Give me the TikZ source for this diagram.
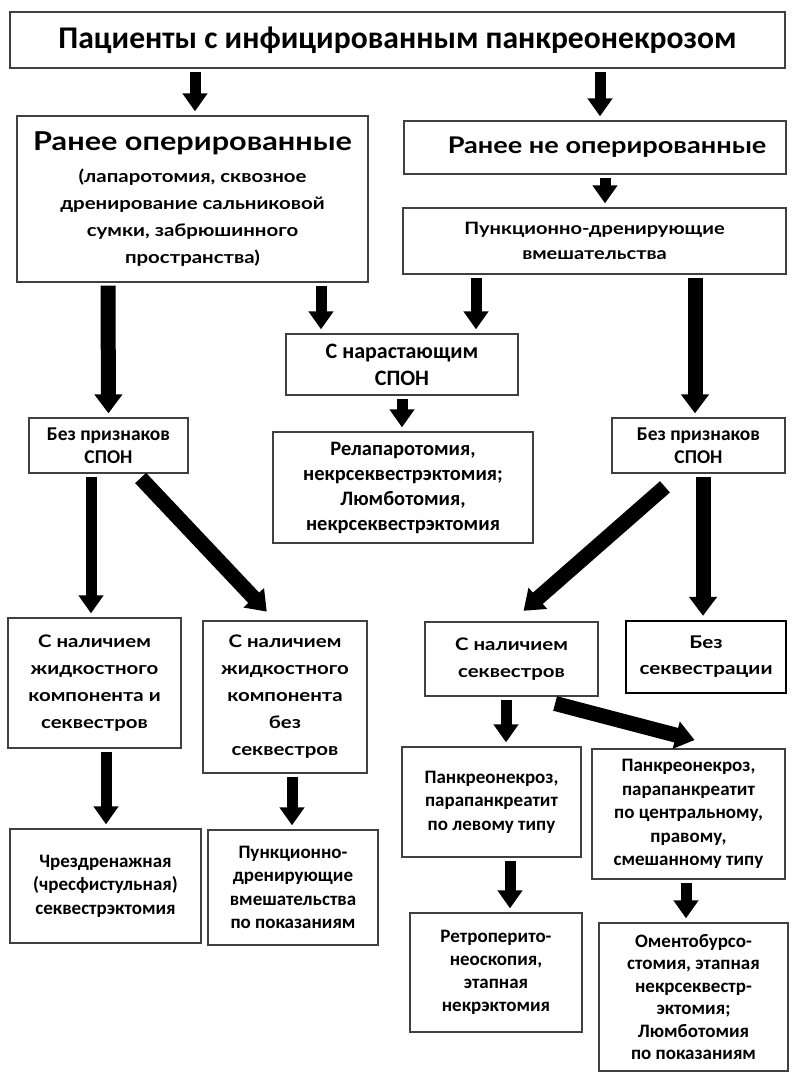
\documentclass[tikz,border=0pt]{standalone}
\usepackage{fontspec}
\setmainfont{Carlito}
\newfontfamily\av{Lato}[FakeStretch=1.18]
\usetikzlibrary{arrows.meta}
\tikzset{
  box/.style={draw=black!75, line width=1.3pt, inner sep=0pt, align=center, text=black},
  arr/.style={line width=11pt, -{Triangle[width=24pt,length=18pt]}, shorten <=3pt, shorten >=4pt},
  arrw/.style={arr, line width=15pt, -{Triangle[width=27pt,length=19pt]}},
}
\begin{document}
\begin{tikzpicture}[x=1pt,y=-1pt]
\fill[white] (0,0) rectangle (793,1081);
\useasboundingbox (0,0) rectangle (793,1081);

\node[box, minimum width=775pt, minimum height=56pt, font=\bfseries\fontsize{31.6}{38}\selectfont] (top) at (397.5,40) {Пациенты с инфицированным панкреонекрозом};

\node[box, minimum width=351pt, minimum height=166pt, font=\av\bfseries\fontsize{17.3}{27}\selectfont] (rop) at (192.5,199)
 {{\fontsize{26}{27}\selectfont Ранее оперированные}\\[5pt](лапаротомия, сквозное\\дренирование сальниковой\\сумки, забрюшинного\\пространства)};

\node[box, minimum width=382pt, minimum height=53pt, font=\av\bfseries\fontsize{23}{27}\selectfont] (rnop) at (595,147.5) {\hspace*{24pt}Ранее не оперированные};

\node[box, minimum width=383pt, minimum height=66pt, font=\av\bfseries\fontsize{17}{25}\selectfont] (pdv) at (594.5,241) {Пункционно-дренирующие\\вмешательства};

\node[box, minimum width=232pt, minimum height=61pt, font=\bfseries\fontsize{22}{27}\selectfont] (nar) at (402,364.5) {С нарастающим\\СПОН};

\node[box, minimum width=260pt, minimum height=111pt, font=\bfseries\fontsize{20.5}{25}\selectfont] (rel) at (403,487.5) {Релапаротомия,\\некрсеквестрэктомия;\\Люмботомия,\\некрсеквестрэктомия};

\node[box, minimum width=159pt, minimum height=55pt, font=\bfseries\fontsize{19.5}{23}\selectfont] (bpl) at (108.5,445.5) {Без признаков\\СПОН};
\node[box, minimum width=173pt, minimum height=55pt, font=\bfseries\fontsize{19.5}{23}\selectfont] (bpr) at (698.5,445.5) {Без признаков\\СПОН};

\node[box, minimum width=173pt, minimum height=130pt, font=\av\bfseries\fontsize{17.3}{27}\selectfont] (zks) at (94.5,683) {С наличием\\жидкостного\\компонента и\\секвестров};
\node[box, minimum width=164pt, minimum height=152pt, font=\av\bfseries\fontsize{17.3}{27}\selectfont] (zbs) at (285,697) {С наличием\\жидкостного\\компонента\\без\\секвестров};

\node[box, minimum width=173pt, minimum height=74pt, font=\av\bfseries\fontsize{17.3}{27}\selectfont] (nsq) at (511.5,659) {С наличием\\секвестров};
\node[box, draw=black, line width=2.3pt, minimum width=160pt, minimum height=72pt, font=\av\bfseries\fontsize{17.5}{26}\selectfont] (bsq) at (706,657) {Без\\секвестрации};

\node[box, minimum width=179pt, minimum height=110pt, font=\bfseries\fontsize{19}{23.5}\selectfont] (lev) at (491.5,802) {Панкреонекроз,\\парапанкреатит\\по левому типу};
\node[box, minimum width=193pt, minimum height=130pt, font=\bfseries\fontsize{19}{23.5}\selectfont] (prv) at (688.5,814) {Панкреонекроз,\\парапанкреатит\\по центральному,\\правому,\\смешанному типу};

\node[box, minimum width=191pt, minimum height=114pt, font=\bfseries\fontsize{19}{23.5}\selectfont] (chr) at (105.5,886) {Чрездренажная\\(чресфистульная)\\секвестрэктомия};
\node[box, minimum width=170pt, minimum height=115pt, font=\bfseries\fontsize{19}{23.5}\selectfont] (ppp) at (293,887.5) {Пункционно-\\дренирующие\\вмешательства\\по показаниям};

\node[box, minimum width=172pt, minimum height=119pt, font=\bfseries\fontsize{19}{23}\selectfont] (ret) at (496,972.5) {Ретроперито-\\неоскопия,\\этапная\\некрэктомия};
\node[box, minimum width=189pt, minimum height=148pt, font=\bfseries\fontsize{19}{22.5}\selectfont] (oms) at (693.5,997) {Оментобурсо-\\стомия, этапная\\некрсеквестр-\\эктомия;\\Люмботомия\\по показаниям};

% arrows
\draw[arr] ([xshift=-202.5pt]top.south) -- ([xshift=2.5pt]rop.north);
\draw[arr] ([xshift=202.5pt]top.south) -- ([xshift=5pt]rnop.north);
\draw[arr] ([xshift=10pt]rnop.south) -- ([xshift=10.5pt]pdv.north);
\draw[arr] ([xshift=128.5pt]rop.south) -- ([xshift=-81pt]nar.north);
\draw[arr] ([xshift=-118.5pt]pdv.south) -- ([xshift=74pt]nar.north);
\draw[arr] (nar.south) -- ([xshift=-1pt]rel.north);
\draw[arrw] ([xshift=-84.5pt]rop.south) -- (bpl.north);
\draw[arrw] ([xshift=100.5pt]pdv.south) -- ([xshift=-3.5pt]bpr.north);
\draw[arr] ([xshift=-17.5pt]bpl.south) -- ([xshift=-3.5pt]zks.north);
\draw[arrw, shorten <=6pt, shorten >=12pt] ([xshift=28pt]bpl.south) -- ([xshift=-10pt]zbs.north);
\draw[arrw, shorten <=20pt, shorten >=16pt] ([xshift=-18.5pt]bpr.south) -- (nsq.north);
\draw[arrw] ([xshift=4.5pt]bpr.south) -- ([xshift=-3pt]bsq.north);
\draw[arr] ([xshift=11.5pt]zks.south) -- ([xshift=0.5pt]chr.north);
\draw[arr] ([xshift=7pt]zbs.south) -- ([xshift=-1pt]ppp.north);
\draw[arr] ([xshift=-5.5pt]nsq.south) -- ([xshift=14.5pt]lev.north);
\draw[arrw, shorten <=27pt, shorten >=33pt] ([xshift=17.5pt]nsq.south) -- ([xshift=38pt]prv.north);
\draw[arr] ([xshift=18.5pt]lev.south) -- ([xshift=14pt]ret.north);
\draw[arr] ([xshift=-2.5pt]prv.south) -- ([xshift=-7.5pt]oms.north);
\end{tikzpicture}
\end{document}
